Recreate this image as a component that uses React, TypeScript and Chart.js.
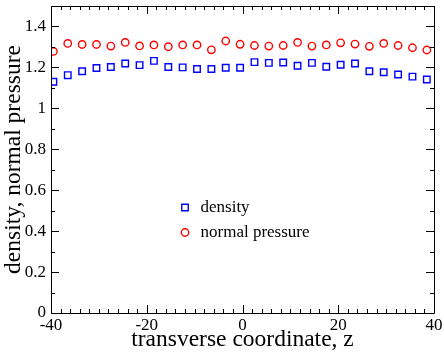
import React, { useEffect, useRef } from "react";
import { Chart, registerables } from "chart.js";

Chart.register(...registerables);

const zValues = [-39.5, -36.5, -33.5, -30.5, -27.5, -24.5, -21.5, -18.5, -15.5, -12.5, -9.5, -6.5, -3.5, -0.5, 2.5, 5.5, 8.5, 11.5, 14.5, 17.5, 20.5, 23.5, 26.5, 29.5, 32.5, 35.5, 38.5];
const densityValues = [1.130, 1.162, 1.181, 1.197, 1.202, 1.219, 1.211, 1.232, 1.202, 1.200, 1.192, 1.192, 1.198, 1.198, 1.226, 1.222, 1.224, 1.208, 1.222, 1.203, 1.213, 1.219, 1.181, 1.176, 1.165, 1.155, 1.141];
const pressureValues = [1.278, 1.317, 1.312, 1.312, 1.304, 1.322, 1.305, 1.310, 1.301, 1.310, 1.310, 1.286, 1.329, 1.313, 1.307, 1.304, 1.307, 1.322, 1.304, 1.310, 1.320, 1.314, 1.303, 1.317, 1.307, 1.296, 1.285];
const xTickValues = [-40, -20, 0, 20, 40];
const yTickValues = [0, 0.2, 0.4, 0.6, 0.8, 1, 1.2, 1.4];
const seriesLabels = ["density", "normal pressure"];
const xTitle = "transverse coordinate, z";
const yTitle = "density, normal pressure";

const FONT = "'Liberation Serif', 'Times New Roman', serif";

const framePlugin = {
  id: "frameTicks",
  afterDatasetsDraw(chart: any) {
    const { ctx, chartArea, scales } = chart;
    const { left, right, top, bottom } = chartArea;
    const xs = scales.x;
    const ys = scales.y;
    ctx.save();
    ctx.strokeStyle = "#000";
    ctx.lineWidth = 1;
    ctx.beginPath();
    ctx.rect(Math.round(left) + 0.5, Math.round(top) + 0.5, Math.round(right - left), Math.round(bottom - top));
    ctx.stroke();
    ctx.beginPath();
    for (let v = -40; v <= 40.001; v += 2) {
      const major = Math.abs(v % 20) < 1e-6;
      const len = major ? 8 : 4;
      const px = Math.round(xs.getPixelForValue(v)) + 0.5;
      ctx.moveTo(px, bottom);
      ctx.lineTo(px, bottom - len);
      ctx.moveTo(px, top);
      ctx.lineTo(px, top + len);
    }
    for (let i = 0; i <= 15; i++) {
      const v = i / 10;
      const major = i % 2 === 0;
      const len = major ? 8 : 4;
      const py = Math.round(ys.getPixelForValue(v)) + 0.5;
      ctx.moveTo(left, py);
      ctx.lineTo(left + len, py);
      ctx.moveTo(right, py);
      ctx.lineTo(right - len, py);
    }
    ctx.stroke();

    // legend
    const items = chart.data.datasets;
    const lx = 185;
    const ly = [207.5, 232.5];
    ctx.font = "17px " + FONT;
    ctx.textBaseline = "middle";
    ctx.textAlign = "left";
    items.forEach((ds: any, i: number) => {
      ctx.strokeStyle = ds.borderColor;
      ctx.lineWidth = ds.borderWidth;
      ctx.beginPath();
      if (ds.pointStyle === "rect") {
        const s = Math.SQRT1_2 * ds.pointRadius;
        ctx.rect(lx - s, ly[i] - s, 2 * s, 2 * s);
      } else {
        ctx.arc(lx, ly[i], ds.pointRadius, 0, Math.PI * 2);
      }
      ctx.stroke();
      ctx.fillStyle = "#000";
      ctx.fillText(ds.label, 200.5, ly[i]);
    });
    ctx.restore();
  },
};

export default function App() {
  const ref = useRef<HTMLCanvasElement>(null);
  useEffect(() => {
    if (!ref.current) return;
    const chart = new Chart(ref.current, {
      type: "scatter",
      data: {
        datasets: [
          {
            label: seriesLabels[0],
            data: zValues.map((z, i) => ({ x: z, y: densityValues[i] })),
            pointStyle: "rect",
            pointRadius: 4.6,
            borderColor: "#0000ff",
            backgroundColor: "rgba(0,0,0,0)",
            borderWidth: 1.4,
          } as any,
          {
            label: seriesLabels[1],
            data: zValues.map((z, i) => ({ x: z, y: pressureValues[i] })),
            pointStyle: "circle",
            pointRadius: 3.7,
            borderColor: "#ff0000",
            backgroundColor: "rgba(0,0,0,0)",
            borderWidth: 1.4,
          } as any,
        ],
      },
      options: {
        responsive: false,
        animation: false,
        layout: { padding: { left: 0, right: 10, top: 2, bottom: 0 } },
        plugins: { legend: { display: false }, tooltip: { enabled: false } },
        scales: {
          x: {
            type: "linear",
            min: -40,
            max: 40,
            grid: { display: false, drawTicks: false },
            border: { display: false },
            afterBuildTicks: (s: any) => {
              s.ticks = xTickValues.map((v) => ({ value: v }));
            },
            afterFit: (s: any) => {
              s.height = 41;
              s.paddingLeft = 0;
              s.paddingRight = 0;
            },
            ticks: {
              color: "#000",
              padding: 2,
              maxRotation: 0,
              font: { family: FONT, size: 17 },
              callback: (v: any) => String(v),
            },
            title: {
              display: true,
              text: xTitle,
              color: "#000",
              padding: 0,
              font: { family: FONT, size: 23.5 },
            },
          },
          y: {
            type: "linear",
            min: 0,
            max: 1.5,
            grid: { display: false, drawTicks: false },
            border: { display: false },
            afterBuildTicks: (s: any) => {
              s.ticks = yTickValues.map((v) => ({ value: v }));
            },
            afterFit: (s: any) => {
              s.width = 51;
              s.paddingTop = 0;
              s.paddingBottom = 0;
            },
            ticks: {
              color: "#000",
              padding: 5,
              font: { family: FONT, size: 17 },
              callback: (v: any) => String(Math.round(v * 10) / 10),
            },
            title: {
              display: true,
              text: yTitle,
              color: "#000",
              padding: 0,
              font: { family: FONT, size: 23.5 },
            },
          },
        },
      },
      plugins: [framePlugin],
    } as any);
    return () => chart.destroy();
  }, []);
  return (
    <div style={{ position: "absolute", left: 0, top: 0, width: 444, height: 354, background: "#fff" }}>
      <canvas ref={ref} width={444} height={354} style={{ display: "block", width: 444, height: 354 }} />
    </div>
  );
}
